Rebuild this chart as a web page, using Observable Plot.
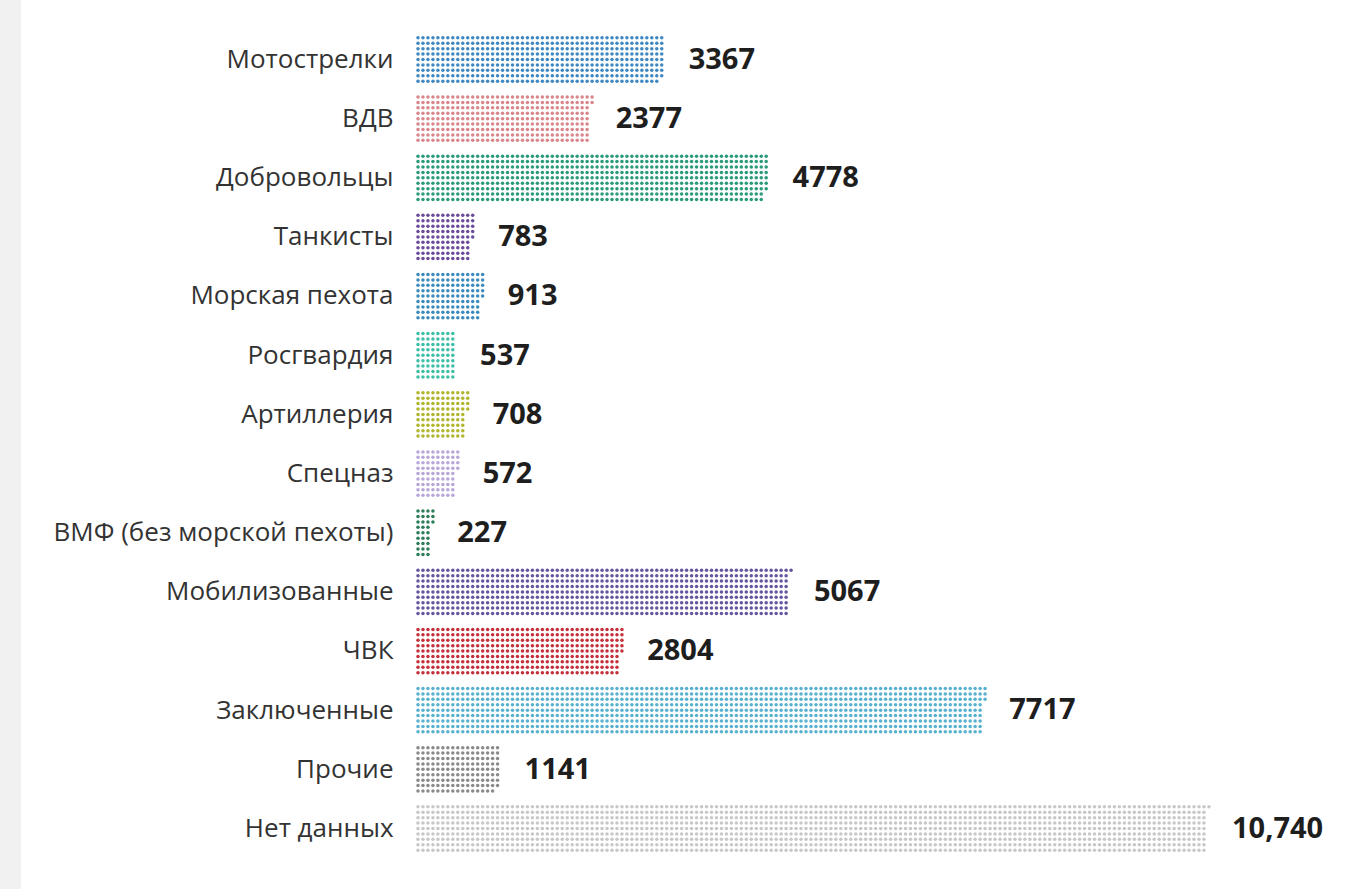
<!DOCTYPE html>
<html>
<head>
<meta charset="utf-8">
<script src="https://cdn.jsdelivr.net/npm/d3@7"></script>
<script src="https://cdn.jsdelivr.net/npm/@observablehq/plot@0.6"></script>
<style>
  html, body { margin: 0; padding: 0; background: #fff; }
  #strip { position: absolute; left: 0; top: 0; width: 21px; height: 889px; background: #f1f1f1; }
  #chart { position: absolute; left: 0; top: 0; }
  svg text { font-family: "Open Sans", sans-serif; }
</style>
</head>
<body>
<div id="strip"></div>
<div id="chart"></div>
<script>
const categories = ["Мотострелки", "ВДВ", "Добровольцы", "Танкисты", "Морская пехота", "Росгвардия", "Артиллерия", "Спецназ", "ВМФ (без морской пехоты)", "Мобилизованные", "ЧВК", "Заключенные", "Прочие", "Нет данных"];
const values = [3367, 2377, 4778, 783, 913, 537, 708, 572, 227, 5067, 2804, 7717, 1141, 10740];
const valueLabels = ["3367", "2377", "4778", "783", "913", "537", "708", "572", "227", "5067", "2804", "7717", "1141", "10,740"];
const palette = ["#3f87c1", "#d9868a", "#2a9a7a", "#6a4a9a", "#3a8bbb", "#3cbfa4", "#b0b52c", "#b8a5d9", "#2c7c58", "#66559d", "#c42f3a", "#58b1cf", "#8a8a8a", "#c8c8c8"];

const perDot = 7.5;   // people per dot
const rows = 9;       // dots per column
const rowStep = 0.0915; // row spacing in category-index units

const table = categories.map((c, i) => ({category: c, index: i, value: values[i], label: valueLabels[i]}));
const dots = [];
table.forEach(d => {
  const n = Math.round(d.value / perDot);
  for (let j = 0; j < n; j++) {
    const col = Math.floor(j / rows), row = j % rows;
    dots.push({category: d.category, x: (col + 0.5) * rows * perDot, y: d.index + (row - (rows - 1) / 2) * rowStep});
  }
});

const chart = Plot.plot({
  width: 1367,
  height: 889,
  style: {background: "transparent", overflow: "visible"},
  x: {domain: [0, 10740], range: [415, 1206.5], axis: null},
  y: {domain: [0, categories.length - 1], range: [59, 828], axis: null},
  color: {domain: categories, range: palette},
  marks: [
    Plot.dot(dots, {x: "x", y: "y", r: 1.75, fill: "category", stroke: null}),
    Plot.text(table, {x: 0, y: "index", text: "category", textAnchor: "end", dx: -22, fontSize: 26, fill: "#333"}),
    Plot.text(table, {x: "value", y: "index", text: "label", textAnchor: "start", dx: 25, fontSize: 29, fontWeight: "bold", fill: "#1e1e1e"})
  ]
});
document.getElementById("chart").appendChild(chart);
</script>
</body>
</html>
